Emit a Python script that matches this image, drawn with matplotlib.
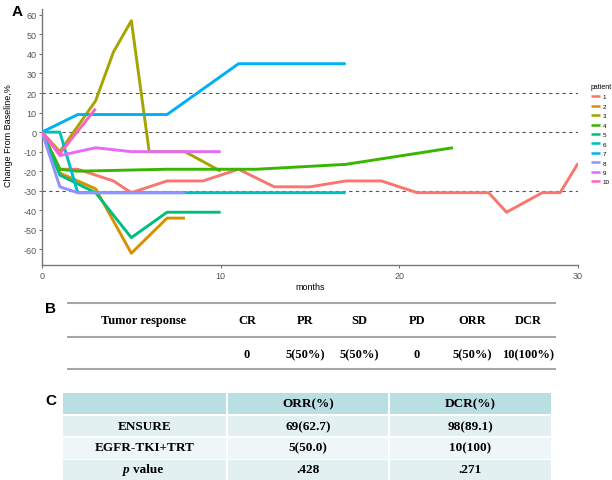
import matplotlib
matplotlib.use("Agg")
import matplotlib.pyplot as plt
from matplotlib.patches import Rectangle

# ---------------- data ----------------
patients = ["1", "2", "3", "4", "5", "6", "7", "8", "9", "10"]
colors = ["#F8766D", "#D89000", "#A3A500", "#39B600", "#00BF7D",
          "#00BFC4", "#00B0F6", "#9590FF", "#E76BF3", "#FF62BC"]

m1 = [0, 1, 2, 3, 4, 5, 7, 9, 11, 13, 15, 17, 19, 21, 25, 26, 28, 29, 30]
v1 = [0, -19, -19, -22, -25, -31, -25, -25, -19, -28, -28, -25, -25, -31, -31, -41, -31, -31, -16]
m2 = [0, 1, 3, 5, 7, 8]
v2 = [0, -21, -29, -62, -44, -44]
m3 = [0, 1, 3, 4, 5, 6, 8, 10]
v3 = [0, -10, 16, 41, 57, -10, -10, -20]
m4 = [0, 1, 2, 7, 12, 17, 23]
v4 = [0, -19, -20, -19, -19, -16.5, -8]
m5 = [0, 1, 3, 5, 7, 10]
v5 = [0, -22, -31, -54, -41, -41]
m6 = [0, 1, 2, 17]
v6 = [0, 0, -31, -31]
m7 = [0, 2, 7, 11, 17]
v7 = [0, 9, 9, 35, 35]
m8 = [0, 1, 2, 8]
v8 = [0, -28, -31, -31]
m9 = [0, 1, 3, 5, 10]
v9 = [0, -12, -8, -10, -10]
m10 = [0, 1, 3]
v10 = [0, -11, 12]

months_list = [m1, m2, m3, m4, m5, m6, m7, m8, m9, m10]
values_list = [v1, v2, v3, v4, v5, v6, v7, v8, v9, v10]

ref_lines = [20, 0, -30]
y_ticks = [-60, -50, -40, -30, -20, -10, 0, 10, 20, 30, 40, 50, 60]
x_ticks = [0, 10, 20, 30]

b_header = ["Tumor response", "CR", "PR", "SD", "PD", "ORR", "DCR"]
b_values = ["", "0", "5(50%)", "5(50%)", "0", "5(50%)", "10(100%)"]

c_header = ["", "ORR(%)", "DCR(%)"]
c_rows = [["ENSURE", "69(62.7)", "98(89.1)"],
          ["EGFR-TKI+TRT", "5(50.0)", "10(100)"],
          ["p value", ".428", ".271"]]

# ---------------- figure ----------------
W, H = 612, 481
fig = plt.figure(figsize=(W / 100, H / 100), dpi=100)
sans = ["Liberation Sans", "DejaVu Sans"]
serif = ["Liberation Serif", "DejaVu Serif"]

ax = fig.add_axes([42 / W, (H - 266) / H, 536 / W, 256 / H])
handles = []
for mm, vv, c, p in zip(months_list, values_list, colors, patients):
    ln, = ax.plot(mm, vv, color=c, lw=2.1, solid_capstyle="butt", label=p, zorder=3)
    handles.append(ln)
for r in ref_lines:
    ax.axhline(r, color="#555555", lw=0.8, ls=(0, (3, 3)), zorder=2)

ax.set_xlim(0, 30)
ax.set_ylim(-68, 63)
ax.set_xticks(x_ticks)
ax.set_yticks(y_ticks)
ax.set_xticklabels([str(t) for t in x_ticks], family=sans, fontsize=6.5, color="#555555")
ax.set_yticklabels([str(t) for t in y_ticks], family=sans, fontsize=6.5, color="#555555")
ax.tick_params(length=2.5, width=0.6, color="#555555", pad=1.5)
for s in ["top", "right"]:
    ax.spines[s].set_visible(False)
for s in ["left", "bottom"]:
    ax.spines[s].set_color("#777777")
    ax.spines[s].set_linewidth(1.0)
ax.set_xlabel("months", family=sans, fontsize=6.5, labelpad=2)
ax.xaxis.set_label_coords((310 - 42) / 536, -(283 - 266) / 256)
ax.set_ylabel("Change From Baseline,%", family=sans, fontsize=6.5)
ax.yaxis.set_label_coords(-(42 - 13) / 536, (266 - 136) / 256)

leg = fig.legend(handles=handles, labels=patients, loc="upper left",
                 bbox_to_anchor=(591 / W, 1 - 84 / H), frameon=False,
                 prop={"family": sans, "size": 4.5}, title="patient",
                 title_fontproperties={"family": sans, "size": 5},
                 handlelength=1.4, handletextpad=0.5, labelspacing=0.65,
                 borderpad=0, borderaxespad=0, alignment="left")
for lh in leg.get_lines():
    lh.set_linewidth(1.8)

# ---------------- overlay for labels and tables ----------------
ov = fig.add_axes([0, 0, 1, 1])
ov.set_xlim(0, W)
ov.set_ylim(H, 0)
ov.axis("off")

ov.text(12, 12, "A", family=sans, fontsize=11, fontweight="bold", va="center", ha="left")
ov.text(45, 309, "B", family=sans, fontsize=11, fontweight="bold", va="center", ha="left")
ov.text(45, 401, "C", family=sans, fontsize=11, fontweight="bold", va="center", ha="left")

# Table B
bx = [144, 247, 305, 359, 417, 472, 528]
for yl in [304, 338, 370]:
    ov.plot([67, 556], [yl, yl], color="#A6A6A6", lw=1.5, solid_capstyle="butt")
for x, t in zip(bx, b_header):
    ov.text(x, 321, t, family=serif, fontsize=9, fontweight="bold", ha="center", va="center")
for x, t in zip(bx, b_values):
    if t:
        ov.text(x, 355, t, family=serif, fontsize=9, fontweight="bold", ha="center", va="center")

# Table C
col_edges = [63, 227, 389, 551]
row_edges = [(394, 415), (416.5, 437), (438.5, 459.5), (461, 483)]
row_colors = ["#BADFE2", "#E2F0F1", "#EEF6F7", "#E2F0F1"]
for (y0, y1), rc in zip(row_edges, row_colors):
    for ci in range(3):
        x0 = col_edges[ci] + (1 if ci > 0 else 0)
        x1 = col_edges[ci + 1] - (1 if ci < 2 else 0)
        ov.add_patch(Rectangle((x0, y0), x1 - x0, y1 - y0, facecolor=rc, edgecolor="none"))
cx = [145, 308, 470]
row_y = [404.5, 427, 448.5, 470]
for x, t in zip(cx, c_header):
    if t:
        ov.text(x, row_y[0], t, family=serif, fontsize=9.5, fontweight="bold", ha="center", va="center")
for ri, row in enumerate(c_rows):
    y = row_y[ri + 1]
    for ci, t in enumerate(row):
        if ci == 0 and t.startswith("p "):
            ov.text(130, y, "p", family=serif, fontsize=9.5,
                    fontweight="bold", fontstyle="italic", ha="right", va="center")
            ov.text(133, y, t[2:], family=serif, fontsize=9.5, fontweight="bold",
                    ha="left", va="center")
        else:
            ov.text(cx[ci], y, t, family=serif, fontsize=9.5, fontweight="bold",
                    ha="center", va="center")

fig.savefig("out.png", dpi=100)
